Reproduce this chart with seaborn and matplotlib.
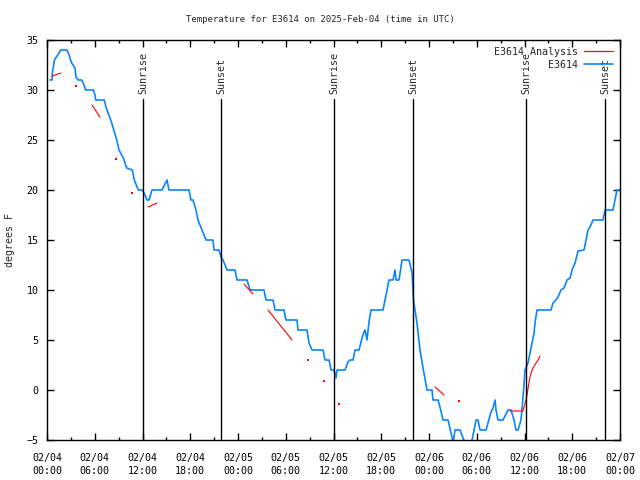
import matplotlib
matplotlib.use('Agg')
import matplotlib.pyplot as plt
import matplotlib.dates as mdates
from matplotlib.lines import Line2D
import pandas as pd
import seaborn as sns

start = pd.Timestamp('2025-02-04 00:00')

# observed temperature (hours since 02/04 00:00 UTC, deg F)
obs_hours = [0.38, 0.63, 0.67, 0.94, 1.42, 1.72, 2.48, 2.68, 2.89, 3.10, 3.52, 3.64, 3.93, 4.36, 4.65,
             4.86, 5.82, 6.03, 6.12, 7.20, 7.41, 8.13, 8.76, 9.05, 9.59, 10.02, 10.72, 10.97, 11.47,
             11.98, 12.31, 12.57, 12.82, 13.19, 14.45, 15.08, 15.33, 17.84, 18.09, 18.35, 18.72,
             18.97, 19.48, 19.98, 20.86, 20.99, 21.61, 21.86, 22.12, 22.62, 23.62, 23.88, 25.13,
             25.51, 27.27, 27.52, 28.40, 28.65, 29.78, 30.03, 31.42, 31.54, 32.67, 32.92, 33.30,
             34.68, 34.93, 35.44, 35.69, 36.06, 36.32, 36.44, 37.45, 37.82, 38.08, 38.45, 38.70,
             39.21, 39.58, 39.83, 39.96, 40.21, 40.46, 40.71, 42.22, 42.47, 42.72, 42.98, 43.48,
             43.73, 43.86, 44.23, 44.61, 45.49, 45.87, 45.99, 46.05, 46.49, 46.87, 47.25, 47.75,
             48.38, 48.50, 49.13, 49.38, 49.76, 50.39, 50.89, 51.02, 51.27, 51.90, 52.28, 52.78,
             53.15, 53.41, 53.91, 54.16, 54.41, 55.17, 55.79, 56.04, 56.30, 56.42, 56.67, 57.30,
             57.93, 58.31, 58.68, 58.93, 59.19, 59.56, 59.81, 60.07, 60.44, 60.69, 60.95, 61.20,
             61.32, 61.57, 63.33, 63.58, 63.96, 64.21, 64.59, 64.97, 65.34, 65.72, 65.97, 66.35,
             66.73, 67.48, 67.73, 67.98, 68.23, 68.61, 69.87, 70.12, 71.12, 71.37, 71.62, 72.0]
obs_temps = [31, 31, 31.7, 33, 33.6, 34, 34, 33.7, 33.2, 32.7, 32.2, 31.3, 31, 31, 30.5,
             30, 30, 29.5, 29, 29, 28.3, 26.7, 25, 24, 23.2, 22.2, 22, 21, 20,
             20, 19.5, 19, 19, 20, 20, 21, 20, 20, 19, 19, 18,
             17, 16, 15, 15, 14, 14, 13.3, 13, 12, 12, 11, 11,
             10, 10, 9, 9, 8, 8, 7, 7, 6, 6, 4.7, 4,
             4, 3, 3, 2, 2, 1.2, 2, 2, 2.8, 3, 3, 4,
             4, 5.2, 5.8, 6, 5, 6.8, 8, 8, 9, 10, 11, 11,
             12, 11, 11, 13, 13, 11.7, 10, 9, 6.7, 4, 2.2, 0,
             0, -1, -1, -1.7, -3, -3, -4.7, -5.3, -4, -4, -4.8, -5.8,
             -5.8, -5, -3, -3, -4, -4, -2.2, -1.8, -1, -2, -3, -3,
             -2, -2, -3, -4, -4, -3, -0.8, 2, 2.7, 3.7, 4.7, 5.7,
             6.7, 8, 8, 8.7, 9, 9.3, 10, 10.2, 11, 11.2, 12, 12.7,
             13.9, 14, 15, 16, 16.3, 17, 17, 18, 18, 19, 20, 20]

# analysis (segments with gaps)
ana_seg = [1, 1, 2, 2, 3, 3, 4, 4, 5, 5, 6, 6, 7, 7, 7, 7, 7, 7, 7, 7, 7, 7]
ana_hours = [0.63, 1.76, 5.65, 6.66, 12.69, 13.82, 24.75, 25.89, 27.77, 30.79, 48.76, 49.89,
             58.18, 59.81, 60.19, 60.32, 60.57, 60.82, 61.07, 61.45, 61.70, 61.95]
ana_temps = [31.4, 31.7, 28.5, 27.3, 18.3, 18.7, 10.6, 9.6, 8.0, 5.0, 0.3, -0.5,
             -2.1, -2.1, -1.0, -0.5, 0.8, 1.7, 2.2, 2.7, 3.0, 3.4]
# single analysis values
dot_hours = [3.64, 8.67, 10.68, 32.80, 34.81, 36.69, 51.77]
dot_temps = [30.4, 23.1, 19.7, 3.0, 0.9, -1.4, -1.1]

sunrise_hours = [12.06, 36.06, 60.19]
sunset_hours = [21.86, 45.99, 70.12]

blue = '#0a84ff'
red = '#ff0000'

obs_df = pd.DataFrame({'time': start + pd.to_timedelta(obs_hours, unit='h'), 'temp': obs_temps})
ana_df = pd.DataFrame({'time': start + pd.to_timedelta(ana_hours, unit='h'), 'temp': ana_temps,
                       'seg': ana_seg})
dot_df = pd.DataFrame({'time': start + pd.to_timedelta(dot_hours, unit='h'), 'temp': dot_temps})

sns.set_style('ticks', {'xtick.direction': 'in', 'ytick.direction': 'in'})
plt.rcParams['font.family'] = ['DejaVu Sans Mono', 'DejaVu Sans']
fs = 7.2

fig = plt.figure(figsize=(6.4, 4.8), dpi=100)
ax = fig.add_axes([47/640, 40/480, 573/640, 400/480])

sns.lineplot(data=obs_df, x='time', y='temp', color=blue, lw=1.2, estimator=None, sort=False, ax=ax)
sns.lineplot(data=ana_df, x='time', y='temp', units='seg', estimator=None, sort=False,
             color=red, lw=0.8, ax=ax)
sns.scatterplot(data=dot_df, x='time', y='temp', color=red, s=3, marker='s', linewidth=0, ax=ax)

for h in sunrise_hours:
    t = start + pd.Timedelta(hours=h)
    ax.plot([t, t], [-5, 29.1], color='black', lw=1.0)
    ax.text(t, 29.6, 'Sunrise', rotation=90, ha='center', va='bottom', fontsize=fs)
for h in sunset_hours:
    t = start + pd.Timedelta(hours=h)
    ax.plot([t, t], [-5, 29.1], color='black', lw=1.0)
    ax.text(t, 29.6, 'Sunset', rotation=90, ha='center', va='bottom', fontsize=fs)

ax.set_xlim(start, start + pd.Timedelta(hours=72))
ax.set_ylim(-5, 35)
ax.set_yticks(range(-5, 36, 5))
xt = pd.date_range(start, periods=13, freq='6h')
ax.set_xticks(xt, [t.strftime('%m/%d\n%H:%M') for t in xt])
ax.xaxis.set_minor_locator(mdates.HourLocator(byhour=range(0, 24, 3)))
for lbl in ax.get_xticklabels():
    lbl.set_linespacing(1.45)
ax.tick_params(which='both', direction='in', top=True, right=True, width=1, labelsize=fs, colors='black')
ax.tick_params(which='major', length=5)
ax.tick_params(which='minor', length=2.5)
ax.tick_params(axis='x', pad=9)
ax.tick_params(axis='y', pad=6)
ax.set_xlabel('')
ax.set_ylabel('')
for s in ax.spines.values():
    s.set_visible(True)
    s.set_linewidth(1)
    s.set_color('black')

handles = [Line2D([], [], color=red, lw=0.9), Line2D([], [], color=blue, lw=1.2)]
ax.legend(handles, ['E3614 Analysis', 'E3614'], loc='upper right', frameon=False, markerfirst=False,
          handlelength=2.9, handletextpad=0.6, labelspacing=0.3, borderaxespad=0.3, fontsize=fs)

fig.text(0.5, 1 - 19/480, 'Temperature for E3614 on 2025-Feb-04 (time in UTC)', ha='center',
         va='center', fontsize=6.5)
fig.text(10/640, 0.5, 'degrees F', rotation=90, ha='center', va='center', fontsize=fs)

fig.savefig('out.png', dpi=100)
